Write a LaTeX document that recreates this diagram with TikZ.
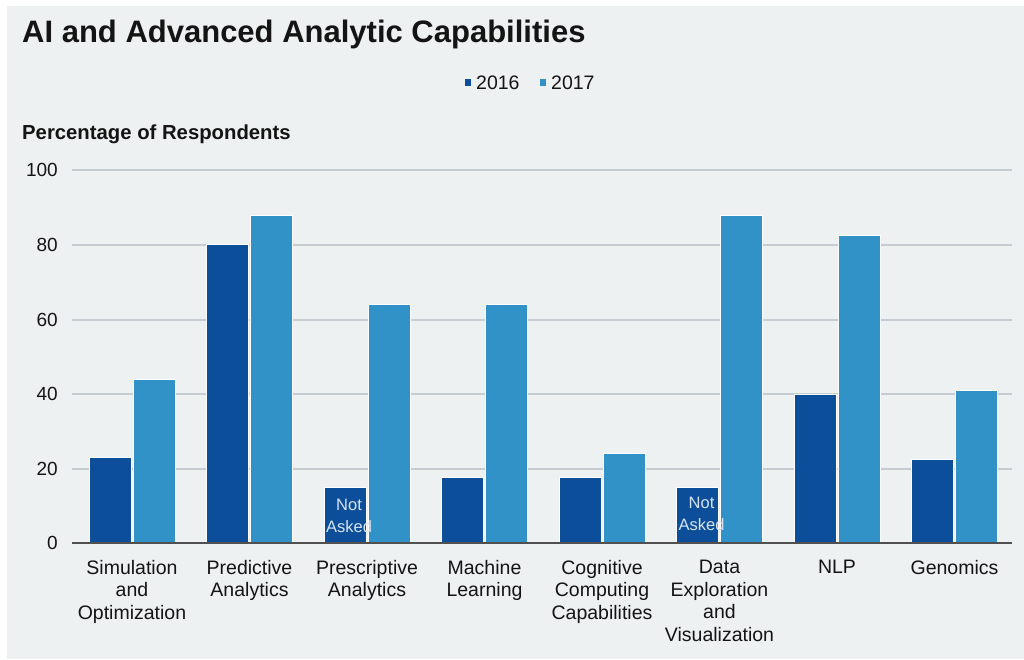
\documentclass[tikz,border=0pt]{standalone}
\usepackage{fontspec}
\setmainfont{Liberation Sans}
\usetikzlibrary{positioning}
\definecolor{panelbg}{RGB}{238,241,241}
\definecolor{dark16}{RGB}{13,78,154}
\definecolor{light17}{RGB}{48,146,198}
\definecolor{gridgray}{RGB}{197,205,211}
\definecolor{axisgray}{RGB}{80,80,80}
\definecolor{askedtext}{RGB}{214,228,242}
\definecolor{inkblack}{RGB}{20,20,20}

\begin{document}
\begin{tikzpicture}[x=1pt,y=-1pt,
    bar16/.style={fill=dark16, draw=white, line width=0.5pt},
    bar17/.style={fill=light17, draw=white, line width=0.5pt},
    gridline/.style={draw=gridgray, line width=1.2pt},
    catlabel/.style={anchor=north, align=center, inner sep=0pt, text=inkblack,
      font=\fontsize{19.5}{22.5}\selectfont},
    ticklabel/.style={anchor=east, inner sep=0pt, text=inkblack,
      font=\fontsize{19}{22}\selectfont},
    notasked/.style={align=center, inner sep=0pt, text=askedtext,
      font=\fontsize{16.5}{22}\selectfont},
    legendkey/.style={inner sep=0pt, minimum size=6.5pt}]
  % page and panel
  \useasboundingbox (0,0) rectangle (1024,659);
  \fill[white] (0,0) rectangle (1024,659);
  \fill[panelbg] (7,6) rectangle (1024,659);

  % title, legend, axis title
  \node[anchor=base west, inner sep=0pt, text=inkblack,
    font=\bfseries\fontsize{31}{36}\selectfont] (title) at (22,42)
    {AI and Advanced Analytic Capabilities};
  \node[anchor=base west, inner sep=0pt, text=inkblack,
    font=\fontsize{19.5}{22}\selectfont] (l16) at (476,89) {2016};
  \node[anchor=base west, inner sep=0pt, text=inkblack,
    font=\fontsize{19.5}{22}\selectfont] (l17) at (551,89) {2017};
  \node[legendkey, fill=dark16, left=4.5pt of l16] (k16) {};
  \node[legendkey, fill=light17, left=4.5pt of l17] (k17) {};
  \node[anchor=base west, inner sep=0pt, text=inkblack,
    font=\bfseries\fontsize{20.3}{24}\selectfont] (ytitle) at (22,139)
    {Percentage of Respondents};

  % grid and ticks
  \draw[gridline] (72,170) -- (1012,170);
  \draw[gridline] (72,245) -- (1012,245);
  \draw[gridline] (72,320) -- (1012,320);
  \draw[gridline] (72,394) -- (1012,394);
  \draw[gridline] (72,469) -- (1012,469);
  \node[ticklabel] (t100) at (58,170) {100};
  \node[ticklabel] (t80) at (58,245) {80};
  \node[ticklabel] (t60) at (58,320) {60};
  \node[ticklabel] (t40) at (58,394) {40};
  \node[ticklabel] (t20) at (58,469) {20};
  \node[ticklabel] (t0) at (58,543) {0};

  % bars, in percent
  \begin{scope}[shift={(0,543)}, y=3.73pt]
    \draw[bar16] (89,0) rectangle (131,23);
    \draw[bar17] (133,0) rectangle (175,44);
    \draw[bar16] (206.5,0) rectangle (248.5,80);
    \draw[bar17] (250.5,0) rectangle (292.5,88);
    \draw[bar16] (324,0) rectangle (366,15);
    \draw[bar17] (368,0) rectangle (410,64);
    \draw[bar16] (441.5,0) rectangle (483.5,17.5);
    \draw[bar17] (485.5,0) rectangle (527.5,64);
    \draw[bar16] (559,0) rectangle (601,17.5);
    \draw[bar17] (603,0) rectangle (645,24);
    \draw[bar16] (676.5,0) rectangle (718.5,15);
    \draw[bar17] (720.5,0) rectangle (762.5,88);
    \draw[bar16] (794,0) rectangle (836,40);
    \draw[bar17] (838,0) rectangle (880,82.5);
    \draw[bar16] (911.5,0) rectangle (953.5,22.5);
    \draw[bar17] (955.5,0) rectangle (997.5,41);
  \end{scope}
  \draw[axisgray, line width=1.2pt] (72,543) -- (1012,543);

  \node[notasked] (na3) at (349,516) {Not\\Asked};
  \node[notasked] (na6) at (701.5,514) {Not\\Asked};

  % categories
  \node[catlabel] (c1) at (132,560) {Simulation\\and\\Optimization};
  \node[catlabel] (c2) at (249.5,560) {Predictive\\Analytics};
  \node[catlabel] (c3) at (367,560) {Prescriptive\\Analytics};
  \node[catlabel] (c4) at (484.5,560) {Machine\\Learning};
  \node[catlabel] (c5) at (602,560) {Cognitive\\Computing\\Capabilities};
  \node[catlabel] (c6) at (719.5,560) {Data\\Exploration\\and\\Visualization};
  \node[catlabel] (c7) at (837,560) {NLP};
  \node[catlabel] (c8) at (954.5,560) {Genomics};
\end{tikzpicture}
\end{document}
